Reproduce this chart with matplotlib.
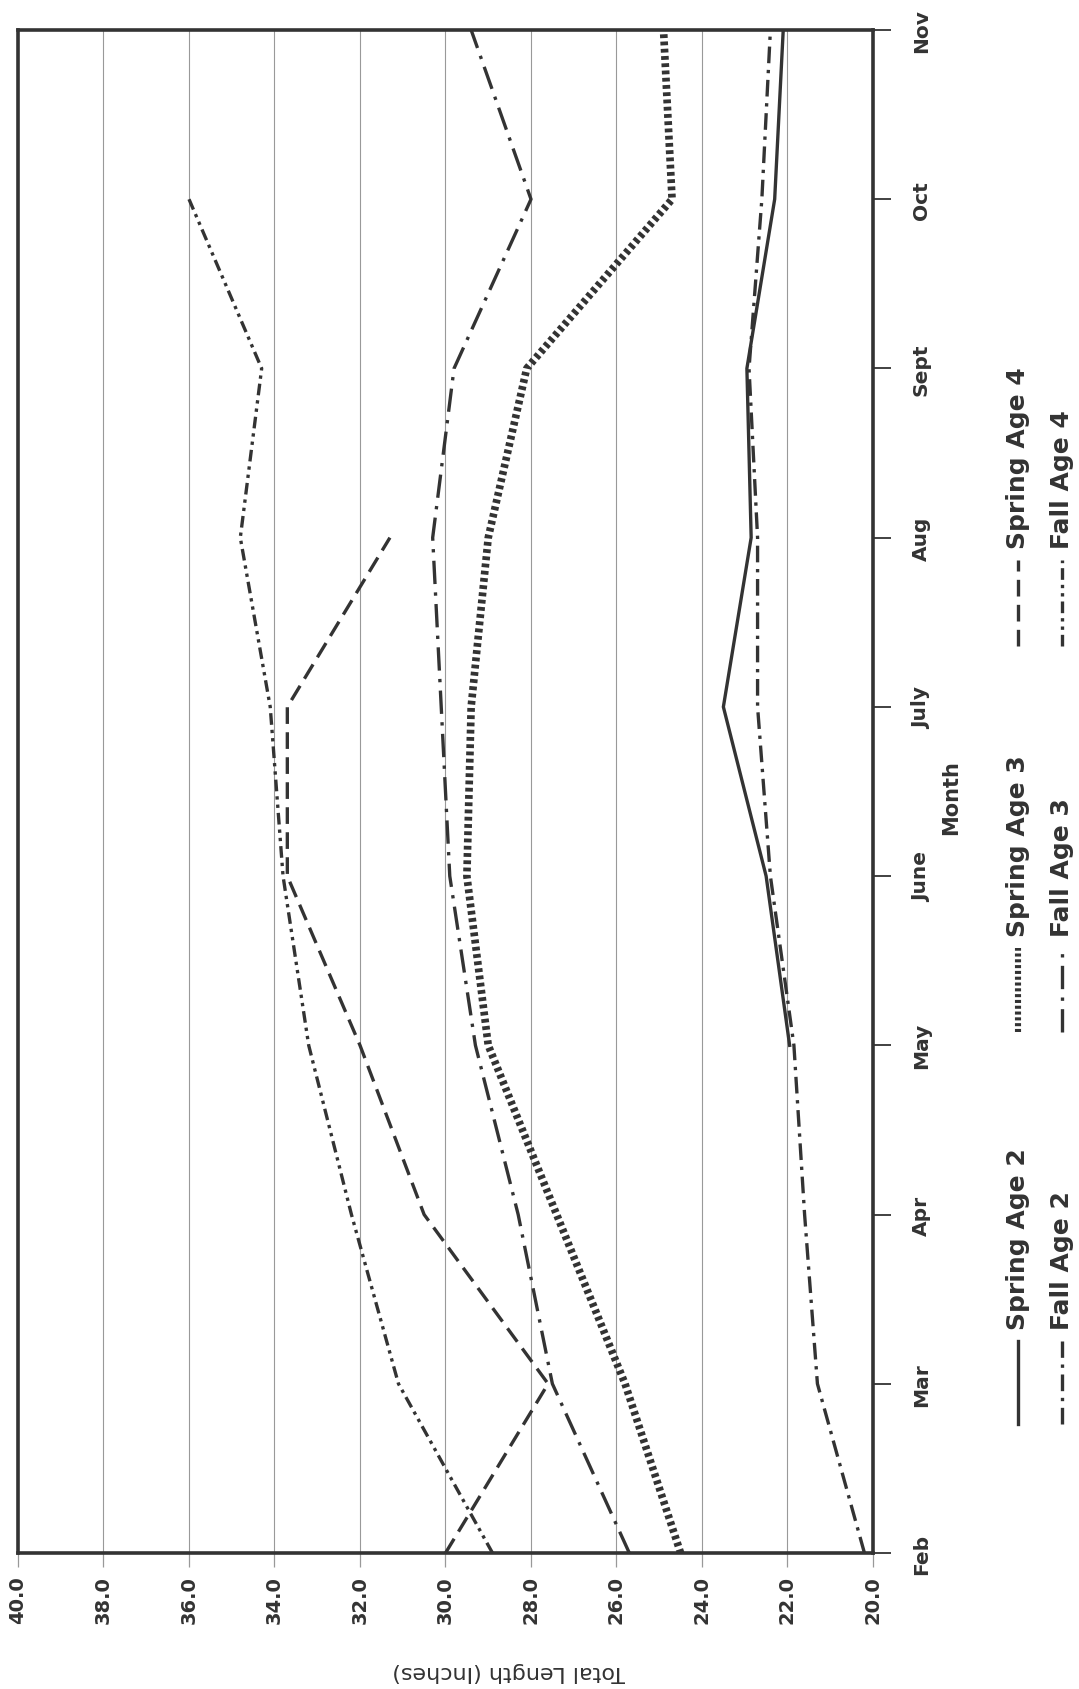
"""
Rotated line chart of total length by month for spring and fall age groups.
The page is turned: months run bottom-to-top, length runs right-to-left.
"""

import numpy as np
import matplotlib.pyplot as plt
from matplotlib.lines import Line2D

plt.rcParams['font.family'] = ['DejaVu Sans']

months = ["Feb", "Mar", "Apr", "May", "June", "July", "Aug", "Sept", "Oct", "Nov"]
length_ticks = [40.0, 38.0, 36.0, 34.0, 32.0, 30.0, 28.0, 26.0, 24.0, 22.0, 20.0]

nan = np.nan
spring_age2 = [nan, nan, nan, 21.95, 22.5, 23.5, 22.85, 22.95, 22.3, 22.1]
fall_age2 = [20.2, 21.3, 21.6, 21.85, 22.4, 22.7, 22.7, 22.9, 22.6, 22.4]
spring_age3 = [24.5, 25.8, 27.4, 29.0, 29.5, 29.4, 29.0, 28.1, 24.7, 24.9]
fall_age3 = [25.7, 27.5, 28.3, 29.3, 29.9, 30.1, 30.3, 29.8, 28.0, 29.4]
spring_age4 = [30.0, 27.6, 30.5, 32.0, 33.7, 33.7, 31.3, nan, nan, nan]
fall_age4 = [28.9, 31.1, 32.2, 33.2, 33.8, 34.1, 34.8, 34.3, 36.0, nan]

INK = '#333333'
W, H = 1079, 1690

# (label, values, linewidth, dash pattern)
series = [
    ("Spring Age 2", spring_age2, 2.4, '-'),
    ("Fall Age 2", fall_age2, 2.4, (0, (5, 2, 1, 2))),
    ("Spring Age 3", spring_age3, 5.5, (0, (0.5, 0.45))),
    ("Fall Age 3", fall_age3, 2.4, (0, (7, 2.5, 1, 2.5))),
    ("Spring Age 4", spring_age4, 2.4, (0, (5, 2.5))),
    ("Fall Age 4", fall_age4, 2.4, (0, (3.5, 1.5, 1, 1.5, 1, 1.5))),
]


def px(x, y):
    """Figure pixel (from top-left) to figure fraction."""
    return x / W, 1 - y / H


fig = plt.figure(figsize=(W / 100, H / 100), dpi=100)
ax = fig.add_axes([18 / W, 1 - 1554 / H, (873 - 18) / W, (1554 - 31) / H])

month_pos = np.arange(len(months))
for label, vals, lw, ls in series:
    ax.plot(vals, month_pos, color=INK, lw=lw, linestyle=ls,
            dash_capstyle='butt', solid_joinstyle='miter', zorder=3)

ax.set_xlim(40, 20)
ax.set_ylim(0, len(months) - 1)

# vertical grid lines
for v in length_ticks[1:-1]:
    ax.axvline(v, color='#999999', lw=0.8, zorder=1)

ax.set_xticks(length_ticks)
ax.set_xticklabels([f"{v:.1f}" for v in length_ticks], rotation=90,
                   fontsize=14, fontweight='bold', color=INK)
ax.tick_params(axis='x', direction='out', length=10, width=0.9,
               color='#999999', pad=6)

ax.yaxis.tick_right()
ax.set_yticks(month_pos)
ax.set_yticklabels(months, rotation=90, va='center',
                   fontsize=14.5, fontweight='bold', color=INK)
ax.tick_params(axis='y', direction='out', length=13, width=1.3,
               color=INK, pad=15)

for s in ax.spines.values():
    s.set_linewidth(2.6)
    s.set_color(INK)

fig.text(*px(509, 1672), "Total Length (Inches)", rotation=180,
         ha='center', va='center', fontsize=16, color=INK)
fig.text(*px(951, 798), "Month", rotation=90, ha='center', va='center',
         fontsize=15, fontweight='bold', color=INK)

# legend: three groups, spring on the inner column, fall on the outer one
col_x = [1018, 1062]
sample_y = [(1342, 1425), (949, 1033), (561, 647)]
for i, (label, vals, lw, ls) in enumerate(series):
    col = i % 2
    grp = i // 2
    x = col_x[col]
    y0, y1 = sample_y[grp]
    fx, fy0 = px(x, y1)
    _, fy1 = px(x, y0)
    fig.add_artist(Line2D([fx, fx], [fy0, fy1], color=INK,
                          lw=lw * 0.8 if lw > 3 else lw, linestyle=ls,
                          dash_capstyle='butt', transform=fig.transFigure))
    tx, ty = px(x, y0 - 12)
    fig.text(tx, ty, label, rotation=90, ha='center', va='bottom',
             fontsize=18, fontweight='bold', color=INK)

fig.savefig("out.png", dpi=100)
